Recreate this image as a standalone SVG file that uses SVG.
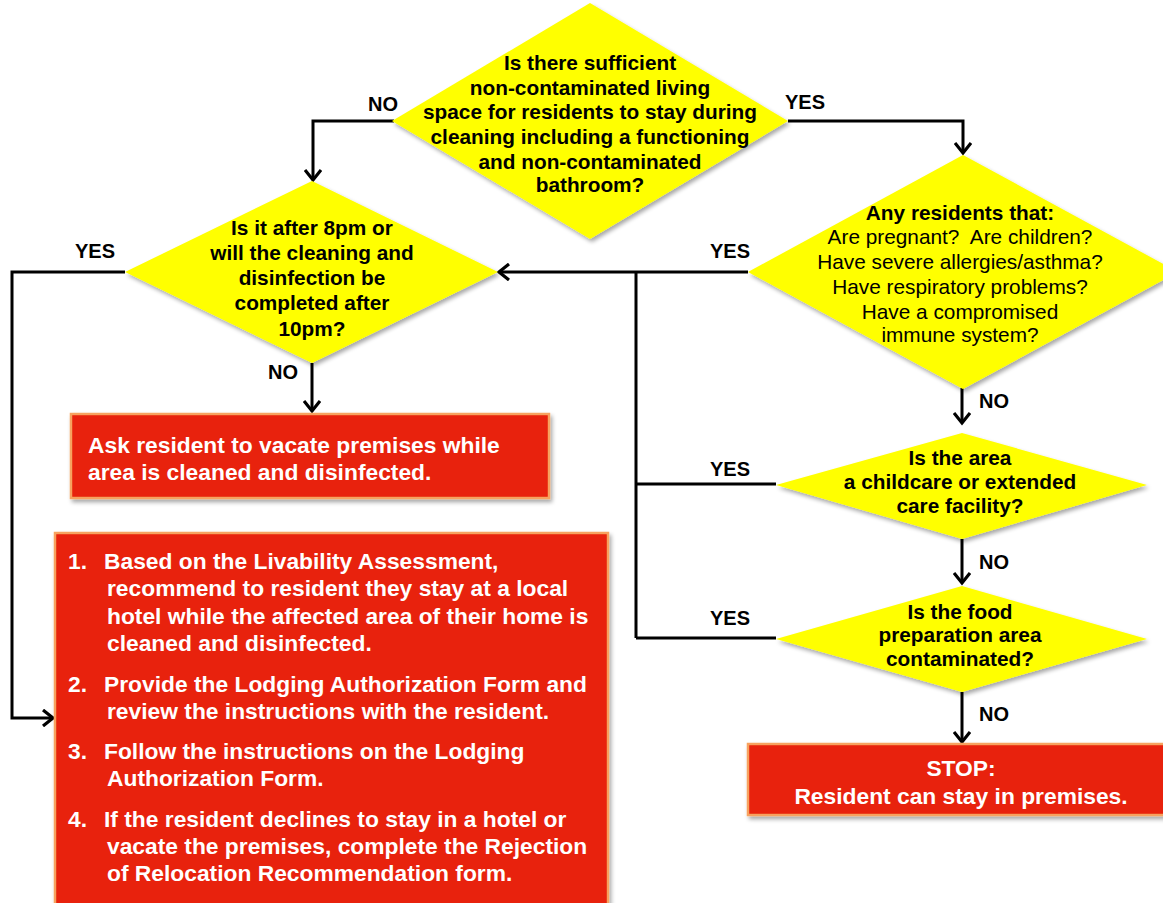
<svg xmlns="http://www.w3.org/2000/svg" width="1163" height="903" viewBox="0 0 1163 903">
<style>
.dia{fill:#FFFF00;stroke:none;filter:url(#sh)}
.box{fill:#E8200A;stroke:#F7A25E;stroke-width:2.5;filter:url(#sh)}
.tb{font-family:"Liberation Sans",Arial,sans-serif;font-weight:bold;font-size:20.8px;fill:#000;text-anchor:middle}
.tr{font-family:"Liberation Sans",Arial,sans-serif;font-size:20.8px;fill:#000;text-anchor:middle}
.tw{font-family:"Liberation Sans",Arial,sans-serif;font-weight:bold;font-size:22.8px;fill:#fff}
.twc{font-family:"Liberation Sans",Arial,sans-serif;font-weight:bold;font-size:22.8px;fill:#fff;text-anchor:middle}
.lbl{font-family:"Liberation Sans",Arial,sans-serif;font-weight:bold;font-size:20px;fill:#000;text-anchor:middle}
.ln{fill:none;stroke:#000;stroke-width:3}
</style>
<defs>
<filter id="sh" x="-10%" y="-10%" width="130%" height="130%">
<feGaussianBlur in="SourceAlpha" stdDeviation="2"/>
<feOffset dx="2" dy="3" result="o"/>
<feComponentTransfer><feFuncA type="linear" slope="0.35"/></feComponentTransfer>
<feMerge><feMergeNode/><feMergeNode in="SourceGraphic"/></feMerge>
</filter>
<marker id="ah" markerUnits="userSpaceOnUse" markerWidth="16" markerHeight="18" refX="12" refY="9" orient="auto">
<path d="M2,1 L12,9 L2,17" fill="none" stroke="#000" stroke-width="3.2"/>
</marker>
</defs>
<rect width="1163" height="903" fill="#fff"/>

<g id="connectors">
<path class="ln" d="M394,121 H313 V180" marker-end="url(#ah)"/>
<path class="ln" d="M788,121 H963 V153" marker-end="url(#ah)"/>
<path class="ln" d="M748,272 H499" marker-end="url(#ah)"/>
<path class="ln" d="M636,272 V638"/>
<path class="ln" d="M636,484 H776"/>
<path class="ln" d="M636,638 H776"/>
<path class="ln" d="M125,272 H12 V718 H53" marker-end="url(#ah)"/>
<path class="ln" d="M312,363 V411" marker-end="url(#ah)"/>
<path class="ln" d="M962,388 V423" marker-end="url(#ah)"/>
<path class="ln" d="M962,539 V583" marker-end="url(#ah)"/>
<path class="ln" d="M962,692 V742" marker-end="url(#ah)"/>
<text class="lbl" x="383" y="111">NO</text>
<text class="lbl" x="805" y="109">YES</text>
<text class="lbl" x="95" y="258">YES</text>
<text class="lbl" x="730" y="258">YES</text>
<text class="lbl" x="730" y="476">YES</text>
<text class="lbl" x="730" y="625">YES</text>
<text class="lbl" x="283" y="379">NO</text>
<text class="lbl" x="994" y="408">NO</text>
<text class="lbl" x="994" y="569">NO</text>
<text class="lbl" x="994" y="721">NO</text>
</g>

<g id="q-space">
<polygon class="dia" points="590,3 788,121 590,239 392,121"/>
<text class="tb" x="590" y="70">Is there sufficient</text>
<text class="tb" x="590" y="95">non-contaminated living</text>
<text class="tb" x="590" y="119">space for residents to stay during</text>
<text class="tb" x="590" y="144">cleaning including a functioning</text>
<text class="tb" x="590" y="169">and non-contaminated</text>
<text class="tb" x="590" y="192">bathroom?</text>
</g>

<g id="q-time">
<polygon class="dia" points="312,181 498,272 312,363 125,272"/>
<text class="tb" x="312" y="235">Is it after 8pm or</text>
<text class="tb" x="312" y="260">will the cleaning and</text>
<text class="tb" x="312" y="285">disinfection be</text>
<text class="tb" x="312" y="310">completed after</text>
<text class="tb" x="312" y="336">10pm?</text>
</g>

<g id="q-residents">
<polygon class="dia" points="963,155 1178,272 963,389 748,272"/>
<text class="tb" x="960" y="220">Any residents that:</text>
<text class="tr" x="960" y="244" xml:space="preserve">Are pregnant?  Are children?</text>
<text class="tr" x="960" y="269">Have severe allergies/asthma?</text>
<text class="tr" x="960" y="294">Have respiratory problems?</text>
<text class="tr" x="960" y="319">Have a compromised</text>
<text class="tr" x="960" y="342">immune system?</text>
</g>

<g id="q-childcare">
<polygon class="dia" points="962,433 1147,485 962,539 776,485"/>
<text class="tb" x="960" y="465">Is the area</text>
<text class="tb" x="960" y="489">a childcare or extended</text>
<text class="tb" x="960" y="513">care facility?</text>
</g>

<g id="q-food">
<polygon class="dia" points="962,586 1147,639 962,692 776,639"/>
<text class="tb" x="960" y="619">Is the food</text>
<text class="tb" x="960" y="642">preparation area</text>
<text class="tb" x="960" y="666">contaminated?</text>
</g>

<g id="vacate">
<rect class="box" x="71" y="414" width="478" height="84"/>
<text class="tw" x="88" y="453">Ask resident to vacate premises while</text>
<text class="tw" x="88" y="480">area is cleaned and disinfected.</text>
</g>

<g id="hotel">
<rect class="box" x="55" y="533" width="553" height="380"/>
<text class="tw" x="68" y="569">1.</text>
<text class="tw" x="104" y="569">Based on the Livability Assessment,</text>
<text class="tw" x="107" y="596">recommend to resident they stay at a local</text>
<text class="tw" x="107" y="624">hotel while the affected area of their home is</text>
<text class="tw" x="107" y="651">cleaned and disinfected.</text>
<text class="tw" x="68" y="692">2.</text>
<text class="tw" x="104" y="692">Provide the Lodging Authorization Form and</text>
<text class="tw" x="107" y="719">review the instructions with the resident.</text>
<text class="tw" x="68" y="759">3.</text>
<text class="tw" x="104" y="759">Follow the instructions on the Lodging</text>
<text class="tw" x="107" y="786">Authorization Form.</text>
<text class="tw" x="68" y="827">4.</text>
<text class="tw" x="104" y="827">If the resident declines to stay in a hotel or</text>
<text class="tw" x="107" y="854">vacate the premises, complete the Rejection</text>
<text class="tw" x="107" y="881">of Relocation Recommendation form.</text>
</g>

<g id="stop">
<rect class="box" x="748" y="744" width="430" height="71"/>
<text class="twc" x="961" y="776">STOP:</text>
<text class="twc" x="961" y="804">Resident can stay in premises.</text>
</g>
</svg>
